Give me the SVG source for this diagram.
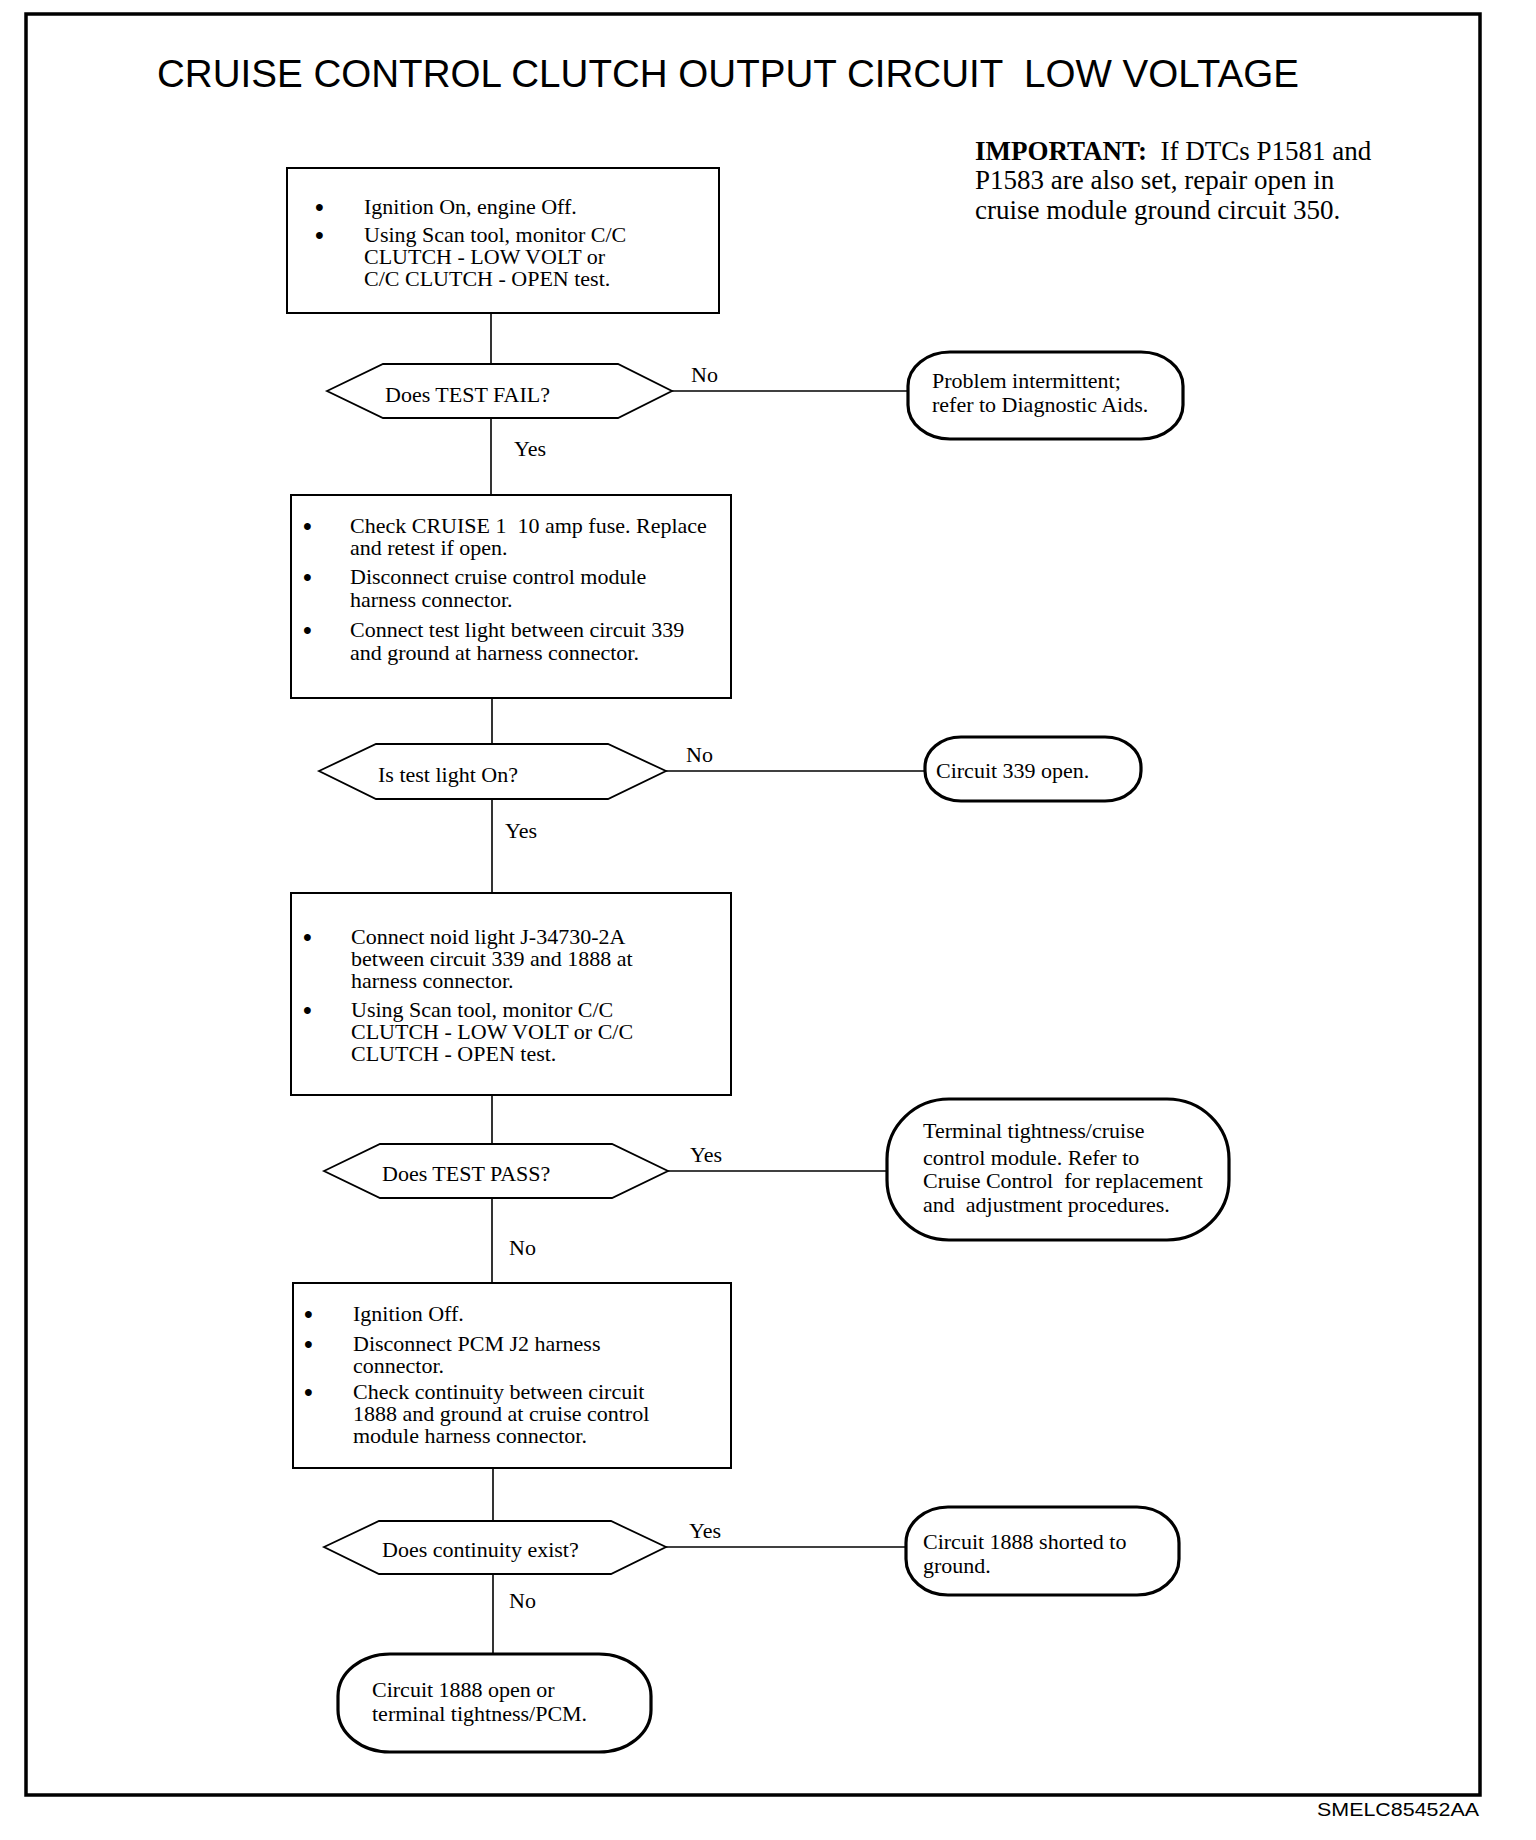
<svg xmlns="http://www.w3.org/2000/svg" width="1536" height="1840" viewBox="0 0 1536 1840">
<style>
text{white-space:pre}
.t{font-family:"Liberation Serif","Times New Roman",serif;font-size:22px;fill:#000}
.b{font-family:"Liberation Serif","Times New Roman",serif;font-size:25px;font-weight:bold;fill:#000}
.imp{font-family:"Liberation Serif","Times New Roman",serif;font-size:27px;fill:#000}
.box{fill:#fff;stroke:#000;stroke-width:2}
.hex{fill:#fff;stroke:#000;stroke-width:1.8}
.term{fill:#fff;stroke:#000;stroke-width:3.2}
.ln{stroke:#000;stroke-width:1.6;fill:none}
</style>
<rect x="0" y="0" width="1536" height="1840" fill="#fff"/>
<rect x="26" y="14" width="1454" height="1781" fill="none" stroke="#000" stroke-width="3.5"/>
<text x="157" y="87" font-family="'Liberation Sans',Arial,sans-serif" font-size="38" textLength="1142" lengthAdjust="spacingAndGlyphs" xml:space="preserve">CRUISE CONTROL CLUTCH OUTPUT CIRCUIT  LOW VOLTAGE</text>
<g id="important">
<text class="imp" x="975" y="160" xml:space="preserve"><tspan font-weight="bold">IMPORTANT:</tspan>  If DTCs P1581 and</text>
<text class="imp" x="975" y="189">P1583 are also set, repair open in</text>
<text class="imp" x="975" y="219">cruise module ground circuit 350.</text>
</g>
<g id="connectors">
<line class="ln" x1="491" y1="313" x2="491" y2="364"/>
<line class="ln" x1="491" y1="418" x2="491" y2="495"/>
<line class="ln" x1="672" y1="391" x2="908" y2="391"/>
<line class="ln" x1="492" y1="698" x2="492" y2="744"/>
<line class="ln" x1="492" y1="799" x2="492" y2="893"/>
<line class="ln" x1="666" y1="771" x2="925" y2="771"/>
<line class="ln" x1="492" y1="1095" x2="492" y2="1144"/>
<line class="ln" x1="492" y1="1198" x2="492" y2="1283"/>
<line class="ln" x1="668" y1="1171" x2="887" y2="1171"/>
<line class="ln" x1="493" y1="1468" x2="493" y2="1521"/>
<line class="ln" x1="493" y1="1574" x2="493" y2="1654"/>
<line class="ln" x1="666" y1="1547" x2="906" y2="1547"/>
<text class="t" x="691" y="382">No</text>
<text class="t" x="514" y="456">Yes</text>
<text class="t" x="686" y="762">No</text>
<text class="t" x="505" y="838">Yes</text>
<text class="t" x="690" y="1162">Yes</text>
<text class="t" x="509" y="1255">No</text>
<text class="t" x="689" y="1538">Yes</text>
<text class="t" x="509" y="1608">No</text>
</g>
<g id="box1">
<rect class="box" x="287" y="168" width="432" height="145"/>
<text class="b" x="315" y="216">•</text>
<text class="t" x="364" y="214">Ignition On, engine Off.</text>
<text class="b" x="315" y="244">•</text>
<text class="t" x="364" y="242">Using Scan tool, monitor C/C</text>
<text class="t" x="364" y="264">CLUTCH - LOW VOLT or</text>
<text class="t" x="364" y="286">C/C CLUTCH - OPEN test.</text>
</g>
<g id="dec1">
<polygon class="hex" points="327,391 383,364 618,364 672,391 618,418 383,418"/>
<text class="t" x="385" y="402">Does TEST FAIL?</text>
</g>
<g id="term1">
<rect class="term" x="908" y="352" width="275" height="87" rx="42" ry="34"/>
<text class="t" x="932" y="388">Problem intermittent;</text>
<text class="t" x="932" y="412">refer to Diagnostic Aids.</text>
</g>
<g id="box2">
<rect class="box" x="291" y="495" width="440" height="203"/>
<text class="b" x="303" y="535">•</text>
<text class="t" x="350" y="533" xml:space="preserve">Check CRUISE 1  10 amp fuse. Replace</text>
<text class="t" x="350" y="555">and retest if open.</text>
<text class="b" x="303" y="586">•</text>
<text class="t" x="350" y="584">Disconnect cruise control module</text>
<text class="t" x="350" y="607">harness connector.</text>
<text class="b" x="303" y="639">•</text>
<text class="t" x="350" y="637">Connect test light between circuit 339</text>
<text class="t" x="350" y="660">and ground at harness connector.</text>
</g>
<g id="dec2">
<polygon class="hex" points="319,771 376,744 608,744 666,771 608,799 376,799"/>
<text class="t" x="378" y="782">Is test light On?</text>
</g>
<g id="term2">
<rect class="term" x="925" y="737" width="216" height="64" rx="36" ry="30"/>
<text class="t" x="936" y="778">Circuit 339 open.</text>
</g>
<g id="box3">
<rect class="box" x="291" y="893" width="440" height="202"/>
<text class="b" x="303" y="946">•</text>
<text class="t" x="351" y="944">Connect noid light J-34730-2A</text>
<text class="t" x="351" y="966">between circuit 339 and 1888 at</text>
<text class="t" x="351" y="988">harness connector.</text>
<text class="b" x="303" y="1019">•</text>
<text class="t" x="351" y="1017">Using Scan tool, monitor C/C</text>
<text class="t" x="351" y="1039">CLUTCH - LOW VOLT or C/C</text>
<text class="t" x="351" y="1061">CLUTCH - OPEN test.</text>
</g>
<g id="dec3">
<polygon class="hex" points="324,1171 380,1144 612,1144 668,1171 612,1198 380,1198"/>
<text class="t" x="382" y="1181">Does TEST PASS?</text>
</g>
<g id="term3">
<rect class="term" x="887" y="1099" width="342" height="141" rx="62" ry="60"/>
<text class="t" x="923" y="1138">Terminal tightness/cruise</text>
<text class="t" x="923" y="1165">control module. Refer to</text>
<text class="t" x="923" y="1188" xml:space="preserve">Cruise Control  for replacement</text>
<text class="t" x="923" y="1212" xml:space="preserve">and  adjustment procedures.</text>
</g>
<g id="box4">
<rect class="box" x="293" y="1283" width="438" height="185"/>
<text class="b" x="304" y="1323">•</text>
<text class="t" x="353" y="1321">Ignition Off.</text>
<text class="b" x="304" y="1353">•</text>
<text class="t" x="353" y="1351">Disconnect PCM J2 harness</text>
<text class="t" x="353" y="1373">connector.</text>
<text class="b" x="304" y="1401">•</text>
<text class="t" x="353" y="1399">Check continuity between circuit</text>
<text class="t" x="353" y="1421">1888 and ground at cruise control</text>
<text class="t" x="353" y="1443">module harness connector.</text>
</g>
<g id="dec4">
<polygon class="hex" points="324,1547 379,1521 611,1521 666,1547 611,1574 379,1574"/>
<text class="t" x="382" y="1557">Does continuity exist?</text>
</g>
<g id="term4">
<rect class="term" x="906" y="1507" width="273" height="88" rx="42" ry="36"/>
<text class="t" x="923" y="1549">Circuit 1888 shorted to</text>
<text class="t" x="923" y="1573">ground.</text>
</g>
<g id="term5">
<rect class="term" x="338" y="1654" width="313" height="98" rx="52" ry="42"/>
<text class="t" x="372" y="1697">Circuit 1888 open or</text>
<text class="t" x="372" y="1721">terminal tightness/PCM.</text>
</g>
<text x="1317" y="1816" font-family="'Liberation Sans',Arial,sans-serif" font-size="18" textLength="162" lengthAdjust="spacingAndGlyphs">SMELC85452AA</text>
</svg>
